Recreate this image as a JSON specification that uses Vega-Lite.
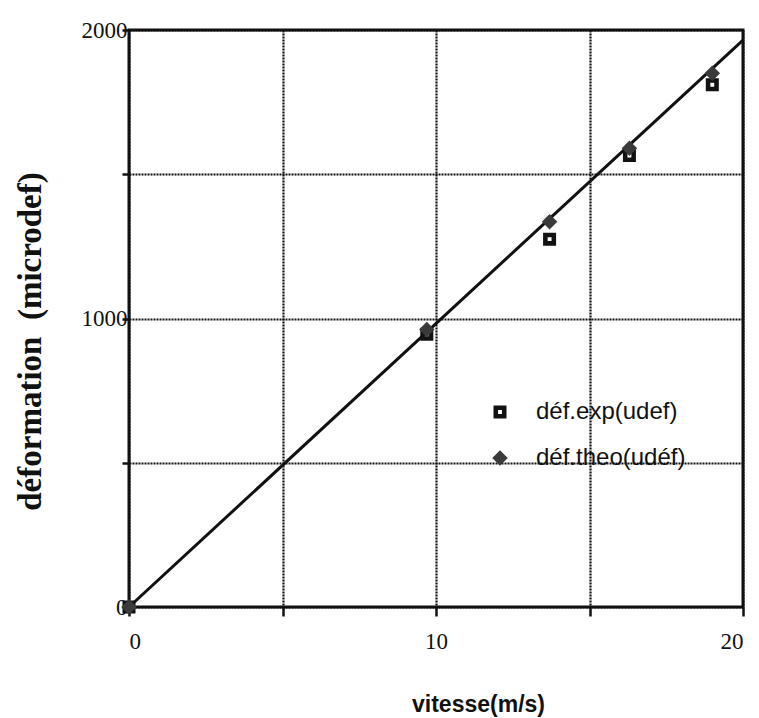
{
  "$schema": "https://vega.github.io/schema/vega-lite/v6.json",
  "width": 614,
  "height": 577,
  "autosize": {"type": "none"},
  "padding": {"left": 129, "top": 30, "right": 16, "bottom": 111},
  "background": "white",
  "datasets": {
    "pts": [
      {"vitesse": 0, "def": 0, "serie": "déf.exp(udef)"},
      {"vitesse": 9.7, "def": 945, "serie": "déf.exp(udef)"},
      {"vitesse": 13.7, "def": 1275, "serie": "déf.exp(udef)"},
      {"vitesse": 16.3, "def": 1565, "serie": "déf.exp(udef)"},
      {"vitesse": 19.0, "def": 1810, "serie": "déf.exp(udef)"},
      {"vitesse": 0, "def": 0, "serie": "déf.theo(udéf)"},
      {"vitesse": 9.7, "def": 962, "serie": "déf.theo(udéf)"},
      {"vitesse": 13.7, "def": 1335, "serie": "déf.theo(udéf)"},
      {"vitesse": 16.3, "def": 1590, "serie": "déf.theo(udéf)"},
      {"vitesse": 19.0, "def": 1850, "serie": "déf.theo(udéf)"}
    ],
    "fit": [
      {"vitesse": 0, "def": 0},
      {"vitesse": 20, "def": 1965}
    ]
  },
  "layer": [
    {
      "data": {"name": "fit"},
      "mark": {"type": "line", "color": "#111", "strokeWidth": 3},
      "encoding": {
        "x": {"field": "vitesse", "type": "quantitative",
              "scale": {"domain": [0, 20], "nice": false, "zero": false},
              "axis": {
                "values": [0, 5, 10, 15, 20],
                "labelExpr": "datum.value % 10 == 0 ? datum.label : ''",
                "title": "vitesse(m/s)",
                "titleFont": "Liberation Sans", "titleFontSize": 23, "titleFontWeight": "bold",
                "titleColor": "#111", "titleX": 349, "titleY": 104, "titleBaseline": "alphabetic",
                "labelFont": "Liberation Serif", "labelFontSize": 23, "labelColor": "#111",
                "labelPadding": 14, "labelBaseline": "top",
                "tickSize": 9, "tickWidth": 2.5, "tickColor": "#111",
                "grid": true, "gridColor": "#111", "gridDash": [2, 1], "gridWidth": 2.2,
                "domain": false
              }},
        "y": {"field": "def", "type": "quantitative",
              "scale": {"domain": [0, 2000], "nice": false, "zero": false},
              "axis": {
                "values": [0, 500, 1000, 1500, 2000],
                "labelExpr": "datum.value % 1000 == 0 ? datum.label : ''",
                "format": "d",
                "title": "déformation\u2002(microdef)",
                "titleFont": "Liberation Serif", "titleFontSize": 33, "titleFontWeight": "bold",
                "titleColor": "#111", "titleX": -89, "titleY": 311, "titleBaseline": "alphabetic",
                "titleAngle": -90, "titleAlign": "center",
                "labelFont": "Liberation Serif", "labelFontSize": 23, "labelColor": "#111",
                "labelPadding": -5, "labelBaseline": "middle",
                "tickSize": 7, "tickWidth": 2.5, "tickColor": "#111",
                "grid": true, "gridColor": "#111", "gridDash": [2, 1], "gridWidth": 2.2,
                "domain": false
              }}
      }
    },
    {
      "data": {"name": "pts"},
      "mark": {"type": "point", "filled": true, "opacity": 1, "size": 169},
      "encoding": {
        "x": {"field": "vitesse", "type": "quantitative"},
        "y": {"field": "def", "type": "quantitative"},
        "size": {
          "field": "serie", "type": "nominal",
          "scale": {"domain": ["déf.exp(udef)", "déf.theo(udéf)"], "range": [169, 240]},
          "legend": null
        },
        "shape": {
          "field": "serie", "type": "nominal",
          "scale": {"domain": ["déf.exp(udef)", "déf.theo(udéf)"],
                    "range": ["M-1,-1H1V1H-1Z M-0.3,-0.3V0.3H0.3V-0.3Z", "diamond"]},
          "legend": {
            "title": null, "orient": "none", "legendX": 359, "legendY": 370,
            "padding": 0, "rowPadding": 22, "labelOffset": 24,
            "symbolSize": 169, "labelFont": "Liberation Sans", "labelFontSize": 24,
            "labelColor": "#111", "symbolStrokeWidth": 0
          }
        },
        "color": {
          "field": "serie", "type": "nominal",
          "scale": {"domain": ["déf.exp(udef)", "déf.theo(udéf)"], "range": ["#111111", "#3a3a3a"]},
          "legend": {
            "title": null, "orient": "none", "legendX": 359, "legendY": 370,
            "padding": 0, "rowPadding": 22, "labelOffset": 24,
            "symbolSize": 169, "labelFont": "Liberation Sans", "labelFontSize": 24,
            "labelColor": "#111", "symbolStrokeWidth": 0
          }
        }
      }
    }
  ],
  "config": {
    "view": {"stroke": "#111", "strokeWidth": 3},
    "axis": {"domain": false}
  }
}
